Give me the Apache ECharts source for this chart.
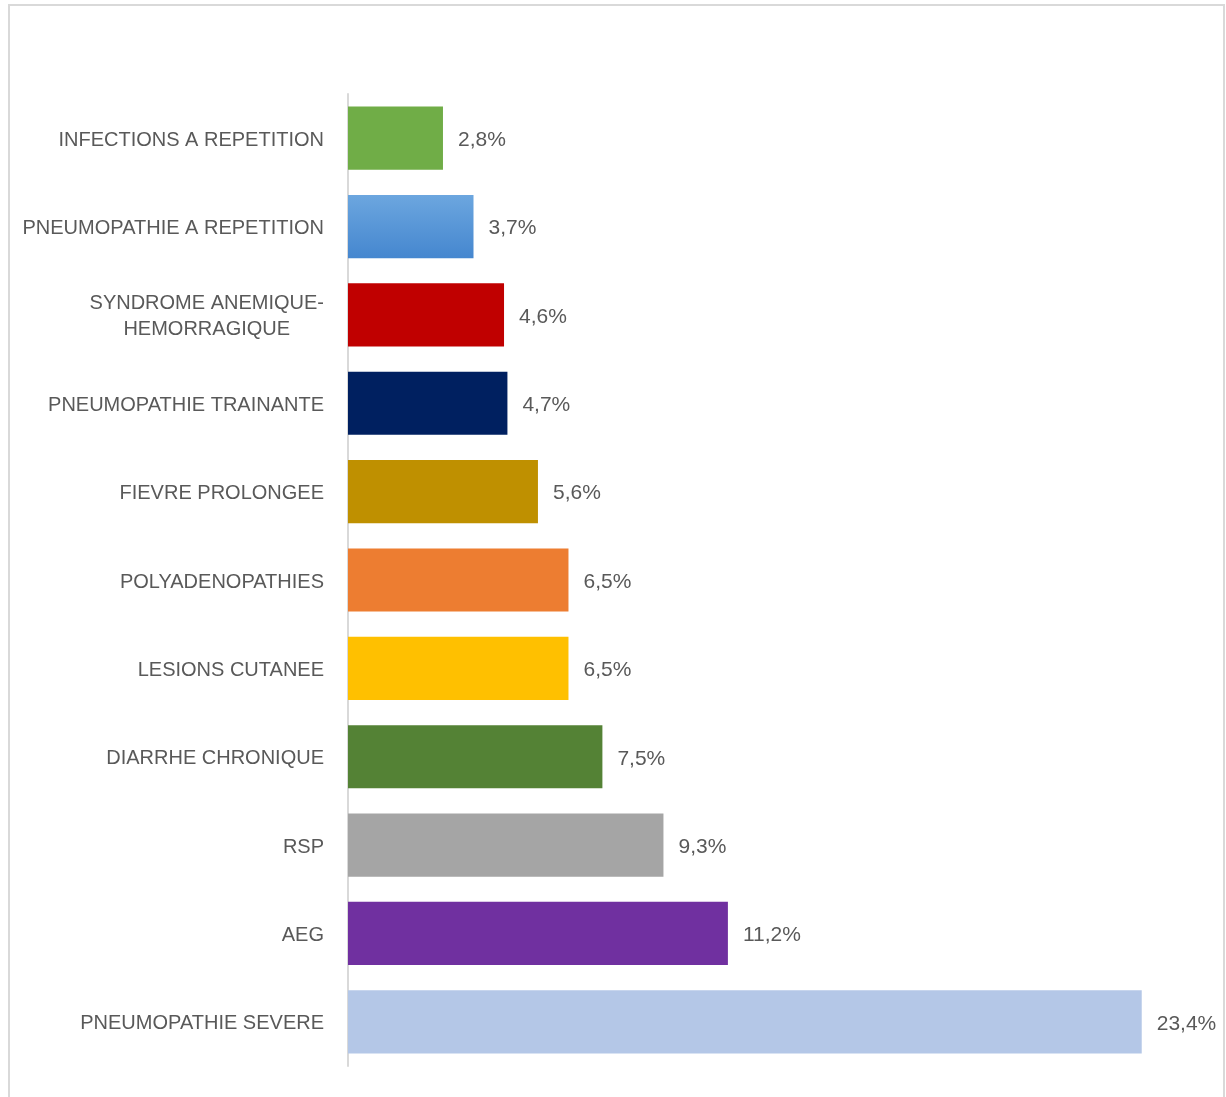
<!DOCTYPE html>
<html>
<head>
<meta charset="utf-8">
<style>
  html, body { margin: 0; padding: 0; background: #ffffff; }
  #chart { width: 1226px; height: 1097px; }
</style>
<script src="https://cdn.jsdelivr.net/npm/echarts@6/dist/echarts.min.js"></script>
</head>
<body>
<div id="chart"></div>
<script>
// Motifs de consultation, en pourcentage des cas (de haut en bas)
const categories = [
  'INFECTIONS A REPETITION',
  'PNEUMOPATHIE A REPETITION',
  'SYNDROME ANEMIQUE-\nHEMORRAGIQUE',
  'PNEUMOPATHIE TRAINANTE',
  'FIEVRE PROLONGEE',
  'POLYADENOPATHIES',
  'LESIONS CUTANEE',
  'DIARRHE CHRONIQUE',
  'RSP',
  'AEG',
  'PNEUMOPATHIE SEVERE'
];
const values = [2.8, 3.7, 4.6, 4.7, 5.6, 6.5, 6.5, 7.5, 9.3, 11.2, 23.4];
const barColors = [
  '#70AD47',
  null, // dégradé bleu, défini plus bas
  '#C00000',
  '#002060',
  '#BF9000',
  '#ED7D31',
  '#FFC000',
  '#548235',
  '#A5A5A5',
  '#7030A0',
  '#B4C7E7'
];

const blueGradient = new echarts.graphic.LinearGradient(0, 0, 0, 1, [
  { offset: 0, color: '#6CA6DF' },
  { offset: 1, color: '#4587CF' }
]);

const chart = echarts.init(document.getElementById('chart'), null, { renderer: 'canvas' });

const textColor = '#595959';
const fontFamily = '"Liberation Sans", Arial, sans-serif';

chart.setOption({
  backgroundColor: '#ffffff',
  animation: false,
  graphic: [{
    type: 'rect',
    shape: { x: 9, y: 5, width: 1215, height: 1100 },
    style: { fill: 'none', stroke: '#D9D9D9', lineWidth: 2 },
    silent: true,
    z: -1
  }],
  grid: { left: 348, right: 30, top: 94, bottom: 31, containLabel: false },
  xAxis: {
    type: 'value',
    min: 0,
    max: 25,
    show: false,
    splitLine: { show: false }
  },
  yAxis: {
    type: 'category',
    data: categories,
    inverse: true,
    axisLine: { show: true, lineStyle: { color: '#D9D9D9', width: 2 } },
    axisTick: { show: false },
    axisLabel: {
      margin: 24,
      color: textColor,
      fontFamily: fontFamily,
      fontSize: 20,
      lineHeight: 26,
      formatter: function (v) {
        return v.split('\n').map(function (l) { return '{c|' + l + '}'; }).join('\n');
      },
      rich: {
        c: {
          align: 'center', color: textColor, fontFamily: fontFamily,
          fontSize: 20, lineHeight: 26, padding: [4, 0, 0, 0]
        }
      }
    }
  },
  series: [{
    type: 'bar',
    data: values.map(function (v, i) {
      return { value: v, itemStyle: { color: barColors[i] || blueGradient } };
    }),
    barCategoryGap: '28.5%',
    label: {
      show: true,
      position: 'right',
      distance: 15,
      offset: [0, 2],
      color: textColor,
      fontFamily: fontFamily,
      fontSize: 21,
      formatter: function (p) { return p.value.toFixed(1).replace('.', ',') + '%'; }
    }
  }]
});
</script>
</body>
</html>
